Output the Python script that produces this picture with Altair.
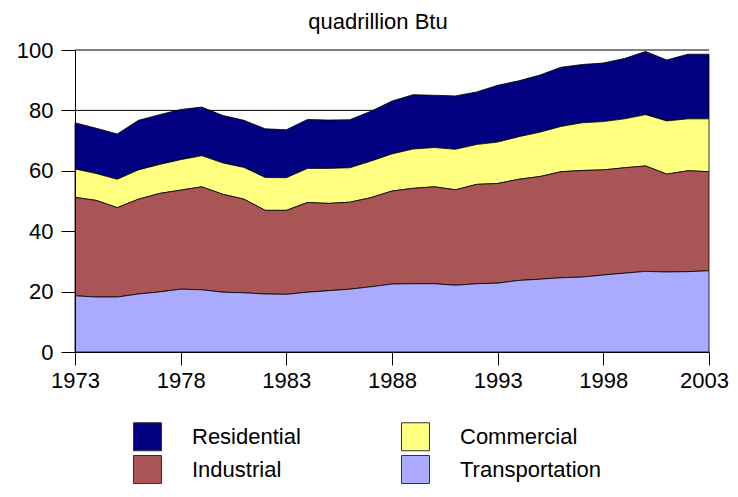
import altair as alt
import pandas as pd

years = list(range(1973, 2004))
transportation = [18.6, 18.2, 18.2, 19.2, 19.9, 20.8, 20.6, 19.8, 19.6, 19.2, 19.1, 19.8, 20.3, 20.8, 21.6, 22.5,
                  22.6, 22.6, 22.1, 22.6, 22.8, 23.7, 24.1, 24.6, 24.8, 25.5, 26.1, 26.7, 26.5, 26.6, 26.9]
industrial = [32.6, 32.0, 29.6, 31.4, 32.6, 32.8, 34.1, 32.4, 31.0, 27.7, 27.8, 29.7, 28.9, 28.8, 29.5, 30.8,
              31.6, 32.1, 31.6, 32.9, 33.0, 33.5, 34.0, 35.1, 35.3, 34.8, 34.9, 34.9, 32.4, 33.4, 32.8]
commercial = [9.4, 8.9, 9.4, 9.7, 9.6, 10.1, 10.3, 10.4, 10.5, 10.9, 10.8, 11.3, 11.6, 11.4, 12.1, 12.3,
              13.0, 13.0, 13.4, 13.2, 13.7, 14.1, 14.7, 15.0, 15.8, 16.0, 16.2, 17.0, 17.6, 17.2, 17.5]
residential = [15.3, 15.0, 15.0, 16.4, 16.5, 16.6, 16.1, 15.7, 15.6, 16.1, 15.9, 16.2, 16.0, 15.9, 16.5, 17.5,
               18.0, 17.3, 17.7, 17.4, 18.8, 18.5, 18.9, 19.6, 19.3, 19.4, 20.0, 20.9, 20.2, 21.4, 21.4]

sectors = ["Residential", "Commercial", "Industrial", "Transportation"]
colors = ["#000080", "#FFFF80", "#AA5555", "#AAAAFF"]
stack_order = {"Transportation": 0, "Industrial": 1, "Commercial": 2, "Residential": 3}
series = {"Residential": residential, "Commercial": commercial,
          "Industrial": industrial, "Transportation": transportation}

x_ticks = [1973, 1978, 1983, 1988, 1993, 1998, 2003]
y_ticks = [0, 20, 40, 60, 80, 100]

rows = []
for name, vals in series.items():
    for yr, v in zip(years, vals):
        rows.append({"year": yr, "sector": name, "value": v, "ord": stack_order[name]})
df = pd.DataFrame(rows)
grid_df = pd.DataFrame({"v": y_ticks})

FONT = "Liberation Sans"

y_axis = alt.Axis(values=y_ticks, title=None, grid=False,
                  tickSize=14, tickColor="black", domainColor="black",
                  labelFont=FONT, labelFontSize=22, labelColor="black",
                  labelPadding=8, zindex=1)

grid = alt.Chart(grid_df).mark_rule(color="black", strokeWidth=1).encode(
    y=alt.Y("v:Q", scale=alt.Scale(domain=[0, 100], nice=False), axis=y_axis)
)

areas = alt.Chart(df).mark_area(stroke="black", strokeWidth=0.8, opacity=1).encode(
    x=alt.X("year:Q",
            scale=alt.Scale(domain=[1973, 2003], nice=False, zero=False),
            axis=alt.Axis(values=x_ticks, format="d", title=None, grid=False,
                          tickSize=13, tickColor="black", domainColor="black",
                          labelFont=FONT, labelFontSize=22, labelColor="black",
                          labelPadding=5, zindex=1, labelFlush=False,
                          labelOffset={"condition": {"test": "datum.value == 2003", "value": -5},
                                       "value": 0})),
    y=alt.Y("value:Q", stack="zero",
            scale=alt.Scale(domain=[0, 100], nice=False),
            axis=y_axis),
    color=alt.Color("sector:N",
                    scale=alt.Scale(domain=sectors, range=colors),
                    legend=alt.Legend(title=None, orient="none", legendX=58, legendY=372,
                                      columns=2, direction="horizontal",
                                      symbolType="square", symbolSize=784,
                                      symbolStrokeColor="#333333", symbolStrokeWidth=1,
                                      labelFont=FONT, labelFontSize=22, labelColor="black",
                                      labelOffset=30, rowPadding=0, columnPadding=98,
                                      padding=0, labelLimit=300)),
    order=alt.Order("ord:Q", sort="ascending"),
)

chart = alt.layer(grid, areas).properties(
    width=634, height=302,
    title=alt.TitleParams("quadrillion Btu", font=FONT, fontSize=22, fontWeight="normal",
                          color="black", offset=5, dx=-14, frame="group"),
    autosize=alt.AutoSizeParams(type="none"),
    padding={"left": 67, "top": 42, "right": 21, "bottom": 132},
).configure_view(stroke=None)

chart.save("out.html", embed_options={"renderer": "svg", "actions": False})
